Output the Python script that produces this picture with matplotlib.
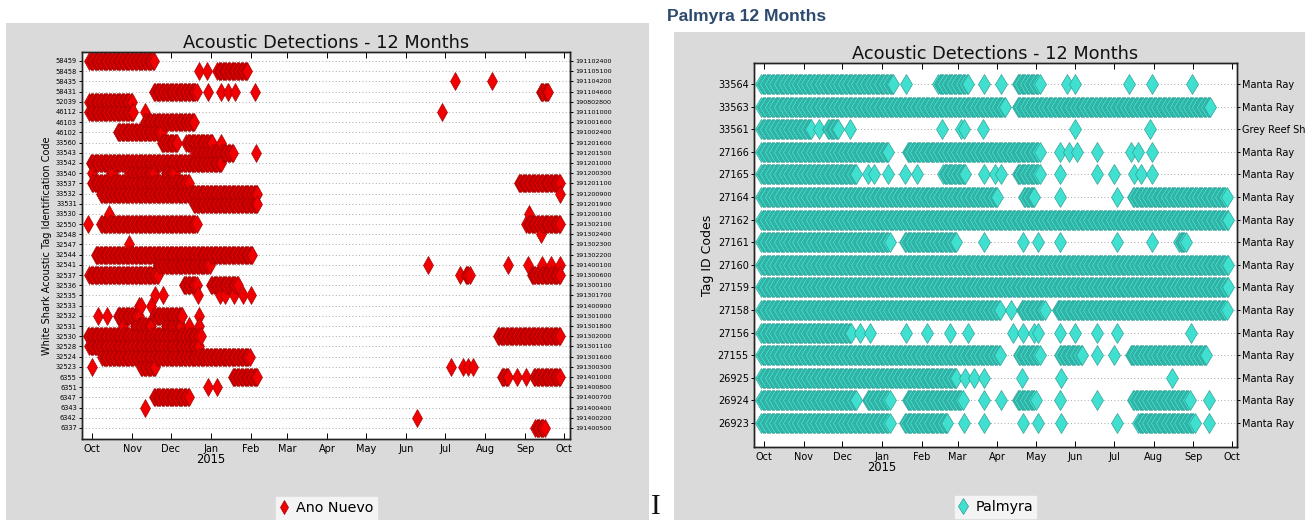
import matplotlib
matplotlib.use('Agg')
import matplotlib.pyplot as plt
import matplotlib.dates as mdates
from matplotlib.patches import Rectangle
from matplotlib.lines import Line2D
import numpy as np
import pandas as pd

# ---------------- data ----------------
ano_tags = ["58459", "58458", "58435", "58431", "52039", "46112", "46103", "46102",
            "33560", "33543", "33542", "33540", "33537", "33532", "33531", "33530",
            "32550", "32548", "32547", "32544", "32541", "32537", "32536", "32535",
            "32533", "32532", "32531", "32530", "32528", "32524", "32523", "6355",
            "6351", "6347", "6343", "6342", "6337"]

ano_receivers = ["191102400", "191105100", "191104200", "191104600", "190802800",
                 "191101000", "191001600", "191002400", "191201600", "191201500",
                 "191201000", "191200300", "191201100", "191200900", "191201900",
                 "191200100", "191302100", "191302400", "191302300", "191302200",
                 "191400100", "191300600", "191300100", "191301700", "191400900",
                 "191301000", "191301800", "191302000", "191301100", "191301600",
                 "191300300", "191401000", "191400800", "191400700", "191400400",
                 "191400200", "191400500"]

# detection days per tag ("a/b" = detected every day from a to b)
ano_detections = [
    "2014-09-29/2014-11-18",
    "2014-12-23 2014-12-29 2015-01-06/2015-01-29",
    "2015-07-09 2015-08-06",
    "2014-11-18/2014-12-21 2014-12-30 2015-01-09 2015-01-14 2015-01-20 2015-02-04 2015-09-13/2015-09-19",
    "2014-09-29/2014-11-01",
    "2014-09-29/2014-11-02 2014-11-11 2015-06-29",
    "2014-11-11/2014-12-19",
    "2014-10-21/2014-11-24",
    "2014-11-24/2014-12-06 2014-12-13/2015-01-02 2015-01-09",
    "2014-12-20/2015-01-18 2015-02-05",
    "2014-09-30/2015-01-09",
    "2014-10-01 2014-10-16 2014-10-17 2014-10-30/2014-11-18 2014-11-27/2014-12-04",
    "2014-10-01/2014-12-15 2015-08-27/2015-09-28",
    "2014-10-08/2015-02-06 2015-09-28",
    "2014-12-19/2015-02-06",
    "2014-10-14 2015-09-04",
    "2014-09-28 2014-10-08/2014-12-21 2015-09-02/2015-09-28",
    "2015-09-13",
    "2014-10-30",
    "2014-10-04/2015-02-02",
    "2014-11-21/2014-12-31 2015-06-18 2015-08-19 2015-09-03 2015-09-14 2015-09-21 2015-09-28",
    "2014-09-29/2014-11-21 2015-07-13 2015-07-17/2015-07-20 2015-09-06/2015-09-28",
    "2014-12-11/2014-12-21 2015-01-01/2015-01-22",
    "2014-11-19 2014-11-25 2014-12-22 2015-01-08 2015-01-12 2015-01-19 2015-01-26 2015-02-01",
    "2014-11-06 2014-11-08 2014-11-16",
    "2014-10-06 2014-10-13 2014-10-21/2014-11-06 2014-11-18/2014-12-10 2014-12-23",
    "2014-10-25 2014-11-03/2014-11-16 2014-11-27/2014-12-09 2014-12-15 2014-12-23",
    "2014-09-28/2014-12-24 2015-08-11/2015-09-28",
    "2014-09-29/2014-12-23",
    "2014-10-09/2015-01-31",
    "2014-10-01 2014-11-08/2014-11-19 2015-07-06 2015-07-15 2015-07-19 2015-07-23",
    "2015-01-18/2015-02-06 2015-08-14/2015-08-19 2015-08-26 2015-09-02 2015-09-08/2015-09-28",
    "2014-12-30 2015-01-06",
    "2014-11-18/2014-12-15",
    "2014-11-11",
    "2015-06-09",
    "2015-09-09/2015-09-16",
]

pal_tags = ["33564", "33563", "33561", "27166", "27165", "27164", "27162", "27161",
            "27160", "27159", "27158", "27156", "27155", "26925", "26924", "26923"]

pal_species = ["Manta Ray", "Manta Ray", "Grey Reef Shark", "Manta Ray", "Manta Ray",
               "Manta Ray", "Manta Ray", "Manta Ray", "Manta Ray", "Manta Ray",
               "Manta Ray", "Manta Ray", "Manta Ray", "Manta Ray", "Manta Ray",
               "Manta Ray"]

pal_detections = [
    "2014-09-29/2015-01-10 2015-01-20 2015-02-14/2015-03-09 2015-03-22 2015-04-04 2015-04-17/2015-05-04 2015-05-25 2015-06-01 2015-07-13 2015-07-31 2015-08-31",
    "2014-09-29/2015-04-07 2015-04-17/2015-09-14",
    "2014-09-29/2014-11-07 2014-11-13 2014-11-20/2014-11-28 2014-12-07 2015-02-17 2015-03-04 2015-03-06 2015-03-21 2015-06-01 2015-07-29",
    "2014-09-29/2015-01-06 2015-01-21/2015-05-04 2015-05-20 2015-05-27 2015-06-02 2015-06-18 2015-07-14 2015-07-20 2015-07-31",
    "2014-09-29/2014-12-12 2014-12-21 2014-12-26 2015-01-06 2015-01-19 2015-01-28 2015-02-18/2015-03-07 2015-03-22 2015-03-30 2015-04-04 2015-04-17/2015-05-04 2015-05-20 2015-06-18 2015-07-01 2015-07-17 2015-07-22 2015-07-31",
    "2014-09-29/2015-04-01 2015-04-22/2015-04-30 2015-05-20 2015-07-03 2015-07-16/2015-09-27",
    "2014-09-29/2015-09-28",
    "2014-09-29/2015-01-07 2015-01-19/2015-02-28 2015-03-22 2015-04-21 2015-05-03 2015-05-20 2015-07-03 2015-07-31 2015-08-21/2015-08-26",
    "2014-09-29/2015-09-28",
    "2014-09-29/2015-09-28",
    "2014-09-29/2015-04-03 2015-04-12 2015-04-20/2015-05-08 2015-05-18/2015-09-27",
    "2014-09-29/2014-12-08 2014-12-15 2014-12-23 2015-01-20 2015-02-05 2015-02-23 2015-03-09 2015-04-13 2015-04-21 2015-04-30 2015-05-03 2015-05-20 2015-06-01 2015-06-18 2015-07-03 2015-08-30",
    "2014-09-29/2015-04-03 2015-04-18/2015-05-04 2015-05-20/2015-06-06 2015-06-18 2015-07-01 2015-07-14/2015-09-11",
    "2014-09-29/2015-02-28 2015-03-07 2015-03-14 2015-03-22 2015-04-20 2015-05-21 2015-08-15",
    "2014-09-29/2014-12-12 2014-12-21/2015-01-07 2015-01-21/2015-03-05 2015-03-22 2015-04-04 2015-04-17/2015-05-01 2015-05-20 2015-06-18 2015-07-16/2015-08-29 2015-09-13",
    "2014-09-29/2015-01-07 2015-01-19/2015-02-21 2015-03-06 2015-03-22 2015-04-21 2015-05-03 2015-05-21 2015-07-03 2015-07-20/2015-09-02 2015-09-13",
]

chart_title = "Acoustic Detections - 12 Months"
year_label = "2015"

# ---------------- figure ----------------
W, H = 1309, 520
fig = plt.figure(figsize=(W / 100, H / 100), dpi=100, facecolor='white')


def frect(x0, y0, x1, y1):
    """pixel box (top-left origin) -> figure-fraction rect"""
    return [x0 / W, 1 - y1 / H, (x1 - x0) / W, (y1 - y0) / H]


panel_grey = '#dadada'
for r in (frect(6, 23, 649, 521), frect(674, 32, 1305, 521)):
    fig.patches.append(Rectangle((r[0], r[1]), r[2], r[3], transform=fig.transFigure,
                                 facecolor=panel_grey, edgecolor='none', zorder=-5))


def expand(spec):
    out = []
    for tok in spec.split():
        if '/' in tok:
            a, b = tok.split('/')
            out.extend(pd.date_range(a, b, freq='D'))
        else:
            out.append(pd.Timestamp(tok))
    return out


def panel(rect, tags, right_labels, detections, xlim, face, edge, ms, mew,
          lsize, rsize, msize, legend_label, legend_xy, legend_ms, ylim_pad):
    ax = fig.add_axes(rect)
    n = len(tags)
    xs, ys = [], []
    for i, spec in enumerate(detections):
        row = n - 1 - i
        for d in expand(spec):
            xs.append(d)
            ys.append(row)
    xs = np.array(xs, dtype='datetime64[ns]')
    ys = np.array(ys)
    order = np.argsort(xs, kind='stable')
    ax.plot(xs[order], ys[order], ls='none', marker='d', ms=ms, mfc=face, mec=edge,
            mew=mew, zorder=3)
    ax.set_xlim(pd.Timestamp(xlim[0]), pd.Timestamp(xlim[1]))
    ylim = (-ylim_pad[0], n - 1 + ylim_pad[1])
    ax.set_ylim(*ylim)
    ax.set_yticks(range(n))
    ax.set_yticklabels(tags[::-1], fontsize=lsize)
    ax.yaxis.grid(True, linestyle=(0, (1, 3)), color='#8a8a8a', linewidth=0.6)
    ax.set_axisbelow(True)
    ax.xaxis.set_major_locator(mdates.MonthLocator())
    ax.xaxis.set_major_formatter(mdates.DateFormatter('%b'))
    ax.tick_params(axis='x', direction='in', top=True, length=4, width=0.7,
                   labelsize=msize, pad=3.5)
    ax.tick_params(axis='y', direction='out', length=2.5, width=0.7, pad=1.2)
    for s in ax.spines.values():
        s.set_linewidth(1.0)
        s.set_color('#222222')
    ax2 = ax.twinx()
    ax2.set_ylim(*ylim)
    ax2.set_yticks(range(n))
    ax2.set_yticklabels(right_labels[::-1], fontsize=rsize)
    ax2.tick_params(axis='y', direction='out', length=2.5, width=0.7, pad=1.2)
    for s in ax2.spines.values():
        s.set_linewidth(1.0)
        s.set_color('#222222')
    ax.set_title(chart_title, fontsize=12.8, pad=1.5, color='#111111')
    ax.annotate(year_label, xy=(mdates.date2num(pd.Timestamp('2015-01-01')), 0),
                xycoords=('data', 'axes fraction'), xytext=(0, -10),
                textcoords='offset points', ha='center', va='top', fontsize=8.3)
    h = Line2D([], [], ls='none', marker='d', ms=legend_ms, mfc=face, mec=edge, mew=0.5)
    ax.legend([h], [legend_label], loc='center', bbox_to_anchor=legend_xy,
              bbox_transform=fig.transFigure, fontsize=10.3, frameon=True,
              facecolor='#f4f4f4', edgecolor='#f4f4f4', framealpha=1, fancybox=False,
              handlelength=0.7, handletextpad=0.5, borderpad=0.25, borderaxespad=0)
    return ax, ax2


# left panel: Ano Nuevo
panel(frect(82, 52, 570, 439), ano_tags, ano_receivers, ano_detections,
      ('2014-09-23 07:00', '2015-10-05 17:00'), '#f00000', '#a00000', 9.0, 0.45,
      4.8, 4.6, 7.0, 'Ano Nuevo', (326.5 / W, 1 - 508 / H), 7.0, (1.08, 0.88))
fig.text(47 / W, 1 - 246 / H, "White Shark Acoustic Tag Identification Code",
         rotation=90, ha='center', va='center', fontsize=7)

# right panel: Palmyra
panel(frect(754, 63, 1237, 447), pal_tags, pal_species, pal_detections,
      ('2014-09-23 05:00', '2015-10-05 00:00'), '#40e0d0', '#2a9b90', 10.3, 0.45,
      7.0, 7.0, 7.0, 'Palmyra', (995.5 / W, 1 - 507 / H), 8.0, (1.06, 0.93))
fig.text(707 / W, 1 - 255 / H, "Tag ID Codes", rotation=90, ha='center',
         va='center', fontsize=9)

# page header and stray cursor glyph
fig.text(667 / W, 1 - 21 / H, "Palmyra 12 Months", family='Liberation Sans',
         fontweight='bold', fontsize=12.6, color='#2c4a6e', ha='left', va='baseline')
fig.text(656 / W, 0.5 / H, "I", family='Liberation Serif', fontsize=21,
         ha='center', va='bottom', color='#111111')

# clip the right tick labels at the panel edge
fig.patches.append(Rectangle((1305 / W, 0), 4 / W, 1, transform=fig.transFigure,
                             facecolor='white', edgecolor='none', zorder=20))

fig.savefig('out.png', dpi=100, facecolor='white')
